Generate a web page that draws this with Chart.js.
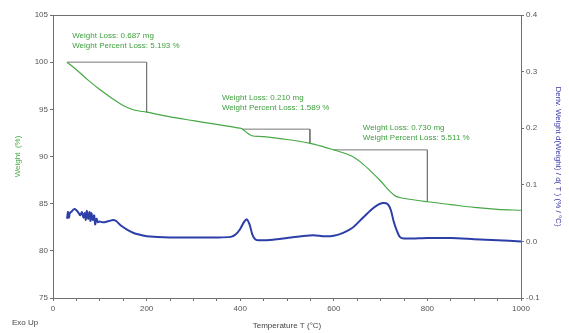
<!DOCTYPE html>
<html>
<head>
<meta charset="utf-8">
<script src="https://cdn.jsdelivr.net/npm/chart.js@4.4.1/dist/chart.umd.min.js"></script>
<style>
  html, body { margin: 0; padding: 0; background: #fff; }
  #wrap { width: 569px; height: 333px; position: relative; }
</style>
</head>
<body>
<div id="wrap"><canvas id="tgaChart"></canvas></div>
<script>
// TGA curve (weight %, left axis)
const tgaTemp = [30, 50, 75, 100, 125, 150, 175, 200, 250, 300, 350, 400, 405, 415, 425, 450, 500, 550, 580, 600, 620, 640, 660, 680, 700, 720, 732, 745, 800, 850, 900, 950, 1000];
const tgaWeight = [100, 99.2, 98.1, 97.1, 96.2, 95.4, 94.9, 94.7, 94.2, 93.8, 93.4, 93.0, 92.9, 92.5, 92.2, 92.1, 91.8, 91.4, 91.0, 90.7, 90.4, 90.0, 89.3, 88.4, 87.4, 86.3, 85.8, 85.6, 85.2, 84.9, 84.6, 84.4, 84.3];

// DTG curve (deriv. weight %/°C, right axis)
const dtgTemp = [30, 32, 34, 36, 40, 45, 50, 55, 58, 62, 65, 68, 70, 72, 75, 78, 80, 82, 85, 88, 90, 93, 96, 100, 105, 110, 120, 128, 135, 145, 160, 175, 190, 200, 250, 300, 350, 380, 390, 400, 408, 414, 420, 426, 432, 440, 470, 500, 530, 556, 580, 600, 620, 640, 660, 680, 695, 705, 715, 722, 728, 735, 741, 750, 800, 850, 900, 950, 1000];
const dtgDeriv = [0.040, 0.052, 0.042, 0.050, 0.053, 0.057, 0.055, 0.050, 0.046, 0.052, 0.042, 0.050, 0.038, 0.054, 0.040, 0.052, 0.036, 0.050, 0.038, 0.046, 0.030, 0.040, 0.034, 0.035, 0.034, 0.034, 0.036, 0.038, 0.036, 0.028, 0.020, 0.014, 0.011, 0.009, 0.007, 0.007, 0.007, 0.008, 0.012, 0.022, 0.034, 0.039, 0.030, 0.012, 0.004, 0.002, 0.003, 0.006, 0.009, 0.011, 0.009, 0.010, 0.015, 0.024, 0.040, 0.056, 0.065, 0.068, 0.066, 0.055, 0.035, 0.018, 0.008, 0.005, 0.006, 0.006, 0.004, 0.002, 0.000];

// weight-loss brackets
const bracket1X = [30, 200, 200];
const bracket1Y = [100, 100, 94.7];
const bracket2X = [404, 549, 549];
const bracket2Y = [92.9, 92.9, 91.4];
const bracket3X = [600, 800, 800];
const bracket3Y = [90.7, 90.7, 85.2];

// annotation texts and their anchor (temperature, weight)
const lossLabels = [
  ['Weight Loss: 0.687 mg', 'Weight Percent Loss: 5.193 %'],
  ['Weight Loss: 0.210 mg', 'Weight Percent Loss: 1.589 %'],
  ['Weight Loss: 0.730 mg', 'Weight Percent Loss: 5.511 %']
];
const labelTemp = [41, 361, 662];
const labelWeight = [102.75, 96.2, 93.0];

const GREEN = '#44a844';
const BLUE = '#2c3ea8';
const AXIS = '#707070';
const TICKTXT = '#555';

const toPts = (xs, ys) => xs.map((x, i) => ({ x: x, y: ys[i] }));

const bracketStyle = {
  borderColor: '#777', borderWidth: 1, pointRadius: 0, fill: false, tension: 0, yAxisID: 'y'
};

const extras = {
  id: 'extras',
  afterDraw(chart) {
    const { ctx, chartArea: a, scales } = chart;
    ctx.save();
    // top frame line
    ctx.strokeStyle = AXIS;
    ctx.lineWidth = 1;
    ctx.beginPath();
    ctx.moveTo(a.left, a.top + 0.5);
    ctx.lineTo(a.right, a.top + 0.5);
    ctx.stroke();

    // loss labels
    ctx.font = '8px "Liberation Sans", Arial, sans-serif';
    ctx.fillStyle = '#3d9f3d';
    ctx.textBaseline = 'middle';
    ctx.textAlign = 'left';
    lossLabels.forEach((lines, i) => {
      const px = scales.x.getPixelForValue(labelTemp[i]);
      const py = scales.y.getPixelForValue(labelWeight[i]);
      lines.forEach((t, j) => ctx.fillText(t, px, py + j * 10));
    });

    // Exo Up
    ctx.fillStyle = '#444';
    ctx.font = '8px "Liberation Sans", Arial, sans-serif';
    ctx.fillText('Exo Up', 12, 323);
    ctx.restore();
  }
};

new Chart(document.getElementById('tgaChart'), {
  type: 'line',
  data: {
    datasets: [
      { data: toPts(tgaTemp, tgaWeight), borderColor: GREEN, borderWidth: 1.2, pointRadius: 0, tension: 0.3, yAxisID: 'y' },
      { data: toPts(dtgTemp, dtgDeriv), borderColor: BLUE, borderWidth: 2, pointRadius: 0, tension: 0.25, yAxisID: 'y1' },
      Object.assign({ data: toPts(bracket1X, bracket1Y) }, bracketStyle),
      Object.assign({ data: toPts(bracket2X, bracket2Y) }, bracketStyle),
      Object.assign({ data: toPts(bracket3X, bracket3Y) }, bracketStyle)
    ]
  },
  options: {
    responsive: true,
    maintainAspectRatio: false,
    animation: false,
    layout: { padding: { top: 15, left: 0, right: 0, bottom: 0 } },
    plugins: { legend: { display: false }, tooltip: { enabled: false } },
    scales: {
      x: {
        type: 'linear',
        min: 0, max: 1000,
        afterFit: s => { s.height = 35; },
        ticks: {
          stepSize: 50, autoSkip: false, maxRotation: 0, padding: 3,
          color: TICKTXT, font: { size: 8, family: '"Liberation Sans", Arial' },
          callback: v => (v % 200 === 0 ? v : '')
        },
        grid: { drawOnChartArea: false, tickLength: 3, color: AXIS },
        border: { color: AXIS },
        title: {
          display: true, text: 'Temperature T (°C)', color: '#444',
          font: { size: 8, family: '"Liberation Sans", Arial' },
          padding: { top: 0, bottom: 2 }
        }
      },
      y: {
        position: 'left',
        min: 75, max: 105,
        afterFit: s => { s.width = 53; },
        ticks: {
          stepSize: 5, padding: 2, color: TICKTXT,
          font: { size: 8, family: '"Liberation Sans", Arial' }
        },
        grid: { drawOnChartArea: false, tickLength: 3, color: AXIS },
        border: { color: AXIS },
        title: {
          display: true, text: 'Weight  (%)', color: GREEN,
          font: { size: 8, family: '"Liberation Sans", Arial' },
          padding: { top: 13, bottom: 0 }
        }
      },
      y1: {
        position: 'right',
        min: -0.1, max: 0.4,
        afterFit: s => { s.width = 48; },
        ticks: {
          stepSize: 0.1, padding: 2, color: TICKTXT,
          font: { size: 8, family: '"Liberation Sans", Arial' },
          callback: v => v.toFixed(1)
        },
        grid: { drawOnChartArea: false, tickLength: 3, color: AXIS },
        border: { color: AXIS },
        title: {
          display: true, text: 'Deriv. Weight d(Weight) / d( T ) (% / °C)', color: '#3a3aa6',
          font: { size: 8, family: '"Liberation Sans", Arial' },
          padding: { top: 6, bottom: 0 }
        }
      }
    }
  },
  plugins: [extras]
});
</script>
</body>
</html>
